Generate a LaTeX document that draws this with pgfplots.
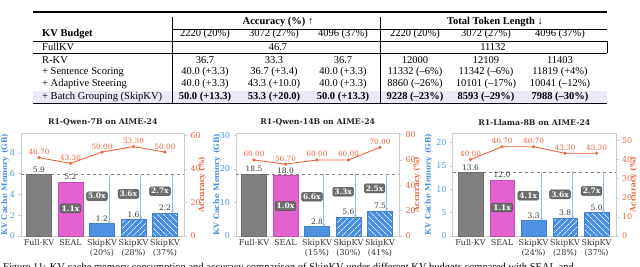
\documentclass[border=0pt]{standalone}
\usepackage{fontspec}
\setmainfont{Liberation Serif}
\newfontfamily\chartfont{DejaVu Serif}
\usepackage{pgfplots}
\pgfplotsset{compat=1.18}
\usetikzlibrary{patterns.meta,arrows.meta}
\definecolor{kvblue}{HTML}{4A90E2}
\definecolor{accor}{HTML}{F0643C}
\definecolor{sealmag}{HTML}{E462D0}
\definecolor{fullgrey}{HTML}{808080}
\definecolor{arrowblue}{HTML}{8FBDEE}
\definecolor{boxgrey}{HTML}{6E6E6E}
\definecolor{rowhl}{HTML}{E9E9F8}
\definecolor{spine}{HTML}{CCCCCC}
\definecolor{txtgrey}{HTML}{333333}

\pgfplotsset{
 base/.style={
   scale only axis, width=163.5pt, height=103pt,
   xmin=-0.57, xmax=4.62, ymin=0,
   axis line style={spine, line width=0.6pt},
   tick style={spine, line width=0.5pt},
   major tick length=2.5pt,
   tick align=outside,
   /pgf/number format/assume math mode=true,
   clip=false,
 },
 leftax/.style={base,
   xtick={0,1,2,3,4}, xtick pos=bottom, ytick pos=left,
   xtick style={draw=none},
   xticklabel style={align=center, font=\chartfont\fontsize{8}{10}\selectfont, text=txtgrey, inner sep=1pt},
   yticklabel style={font=\chartfont\fontsize{8}{9}\selectfont, text=kvblue},
   ylabel={KV Cache Memory (GB)},
   ylabel style={font=\chartfont\bfseries\fontsize{7.6}{9}\selectfont, text=kvblue, anchor=center},
   title style={font=\chartfont\bfseries\fontsize{7.8}{9}\selectfont, text=txtgrey!70!black, at={(0.5,1)}, anchor=south, inner sep=1.2pt},
 },
 rightax/.style={base,
   axis x line=none, axis y line*=right,
   yticklabel style={font=\chartfont\fontsize{8}{9}\selectfont, text=accor},
   ylabel={Accuracy (\%)},
   ylabel style={font=\chartfont\bfseries\fontsize{7.6}{9}\selectfont, text=accor, at={(axis description cs:1.107,0.5)}, anchor=center},
 },
 barlab/.style={nodes near coords, point meta=explicit symbolic,
   nodes near coords style={font=\chartfont\fontsize{7.5}{8}\selectfont, text=txtgrey, inner sep=1pt, anchor=south, yshift=1pt}},
 fullbar/.style={ybar, bar width=0.78, bar shift=0pt, fill=fullgrey, draw=fullgrey!85!black, line width=0.4pt, barlab},
 sealbar/.style={ybar, bar width=0.78, bar shift=0pt, fill=sealmag, draw=sealmag!85!black, line width=0.4pt, barlab},
 skipbar/.style={ybar, bar width=0.78, bar shift=0pt, fill=kvblue, draw=kvblue!90!black, line width=0.4pt, barlab},
 dotspat/.style={postaction={pattern={Dots[distance=3pt,radius=0.35pt]}, pattern color=white!55!kvblue}},
 nelines/.style={postaction={pattern={Lines[angle=45,distance=4pt,line width=0.7pt]}, pattern color=white!85!kvblue}},
 nwlines/.style={postaction={pattern={Lines[angle=-45,distance=4pt,line width=0.7pt]}, pattern color=white!85!kvblue}},
 refline/.style={dashed, draw=gray, line width=0.6pt, mark=none},
 redarrow/.style={draw=arrowblue, line width=0.8pt, mark=none, -{Stealth[length=3pt,width=3pt]}},
 accline/.style={color=accor, line width=0.9pt, mark=*, mark size=1.1pt, nodes near coords, point meta=explicit symbolic,
   nodes near coords style={font=\chartfont\fontsize{7.3}{8}\selectfont, text=accor, anchor=south, inner sep=0.5pt, yshift=2pt}},
}
\tikzset{rbox/.style={fill=boxgrey, draw=boxgrey!70!black, line width=0.5pt, rounded corners=1.5pt, text=white,
   font=\chartfont\bfseries\fontsize{7.5}{8}\selectfont, inner sep=1.6pt},
  tab/.style={font=\fontsize{10.5}{12}\selectfont, inner sep=0pt, anchor=center},
  tabl/.style={font=\fontsize{10.5}{12}\selectfont, inner sep=0pt, anchor=west}}

\begin{document}
\begin{tikzpicture}[x=1pt,y=1pt]
\useasboundingbox (0,0) rectangle (640,-267);
% ---------------- table ----------------
\fill[rowhl] (33,-91) rectangle (607,-103);
\draw[line width=1.1pt] (33,-12) -- (607,-12);
\draw[line width=0.5pt] (172,-29) -- (607,-29);
\draw[line width=0.5pt] (33,-41) -- (607,-41);
\draw[line width=0.5pt] (33,-53) -- (607,-53);
\draw[line width=0.5pt] (607,-41) -- (607,-53);
\draw[line width=0.8pt] (33,-103) -- (607,-103);
\draw[line width=0.5pt] (172,-17) -- (172,-103);
\draw[line width=0.5pt] (380,-17) -- (380,-103);
\node[tab] at (278,-22) {\textbf{Accuracy (\%) ↑}};
\node[tab] at (495,-22) {\textbf{Total Token Length ↓}};
\node[tabl] at (42,-34) {\textbf{KV Budget}};
\foreach \x/\t in {205/2220 (20\%),274/3072 (27\%),343/4096 (37\%),415/2220 (20\%),486/3072 (27\%),560/4096 (37\%)}
  \node[tab] at (\x,-34) {\t};
\node[tabl] at (42,-47) {FullKV};
\node[tab] at (278,-47) {46.7};
\node[tab] at (493,-47) {11132};
\node[tabl] at (42,-60) {R-KV};
\foreach \x/\t in {205/36.7,274/33.3,343/36.7,415/12000,486/12109,560/11403}
  \node[tab] at (\x,-60) {\t};
\node[tabl] at (42,-72) {+ Sentence Scoring};
\foreach \x/\t in {205/40.0 (+3.3),274/36.7 (+3.4),343/40.0 (+3.3),415/11332 (–6\%),486/11342 (–6\%),560/11819 (+4\%)}
  \node[tab] at (\x,-72) {\t};
\node[tabl] at (42,-84) {+ Adaptive Steering};
\foreach \x/\t in {205/40.0 (+3.3),274/43.3 (+10.0),343/40.0 (+3.3),415/8860 (–26\%),486/10101 (–17\%),560/10041 (–12\%)}
  \node[tab] at (\x,-84) {\t};
\node[tabl] at (42,-97) {+ Batch Grouping (SkipKV)};
\foreach \x/\t in {205/50.0 (+13.3),274/53.3 (+20.0),343/50.0 (+13.3),415/9228 (–23\%),486/8593 (–29\%),560/7988 (–30\%)}
  \node[tab] at (\x,-97) {\textbf{\t}};
% caption fragment (cut by page)
\node[font=\fontsize{10.5}{12}\selectfont, anchor=base west, inner sep=0pt] at (3,-270) {Figure 11: KV cache memory consumption and accuracy comparison of SkipKV under different KV budgets compared with SEAL and};

% ---------------- chart 1 ----------------
\begin{axis}[leftax, at={(21pt,-236pt)}, anchor=south west, ymax=9.9, ytick={0,2,4,6,8},
  title={R1-Qwen-7B on AIME-24},
  xticklabels={Full-KV,SEAL,{SkipKV\\(20\%)},{SkipKV\\(28\%)},{SkipKV\\(37\%)}},
  ylabel style={at={(axis description cs:-0.098,0.5)}}]
\addplot[refline] coordinates {(-0.57,5.9) (4.62,5.9)};
\addplot[fullbar] coordinates {(0,5.9) [5.9]};
\addplot[sealbar] coordinates {(1,5.2) [5.2]};
\addplot[skipbar, dotspat] coordinates {(2,1.2) [1.2]};
\addplot[skipbar, nelines] coordinates {(3,1.6) [1.6]};
\addplot[skipbar, nwlines] coordinates {(4,2.2) [2.2]};
\addplot[redarrow] coordinates {(2.23,5.9) (2.23,1.2)};
\addplot[redarrow] coordinates {(3.23,5.9) (3.23,1.6)};
\addplot[redarrow] coordinates {(4.23,5.9) (4.23,2.2)};
\node[rbox] at (axis cs:1.0,2.65) {1.1x};
\node[rbox] at (axis cs:1.84,3.82) {5.0x};
\node[rbox] at (axis cs:2.84,4.05) {3.6x};
\node[rbox] at (axis cs:3.84,4.3) {2.7x};
\end{axis}
\begin{axis}[rightax, at={(21pt,-236pt)}, anchor=south west, ymax=61.4, ytick={0,20,40,60}]
\addplot[accline] coordinates {(0,46.7)[46.70] (1,43.3)[43.30] (2,50)[50.00] (3,53.3)[53.30] (4,50)[50.00]};
\end{axis}

% ---------------- chart 2 ----------------
\begin{axis}[leftax, at={(236pt,-236pt)}, anchor=south west, ymax=30.7, ytick={0,10,20,30},
  title={R1-Qwen-14B on AIME-24},
  xticklabels={Full-KV,SEAL,{SkipKV\\(15\%)},{SkipKV\\(30\%)},{SkipKV\\(41\%)}},
  ylabel style={at={(axis description cs:-0.116,0.5)}}]
\addplot[refline] coordinates {(-0.57,18.5) (4.62,18.5)};
\addplot[fullbar] coordinates {(0,18.5) [18.5]};
\addplot[sealbar] coordinates {(1,18.0) [18.0]};
\addplot[skipbar, dotspat] coordinates {(2,2.8) [2.8]};
\addplot[skipbar, nelines] coordinates {(3,5.6) [5.6]};
\addplot[skipbar, nwlines] coordinates {(4,7.5) [7.5]};
\addplot[redarrow] coordinates {(2.22,18.5) (2.22,2.8)};
\addplot[redarrow] coordinates {(3.22,18.5) (3.22,5.6)};
\addplot[redarrow] coordinates {(4.21,18.5) (4.21,7.5)};
\node[rbox] at (axis cs:1.0,8.9) {1.0x};
\node[rbox] at (axis cs:1.84,11.7) {6.6x};
\node[rbox] at (axis cs:2.83,13.2) {3.3x};
\node[rbox] at (axis cs:3.83,14.2) {2.5x};
\end{axis}
\begin{axis}[rightax, at={(236pt,-236pt)}, anchor=south west, ymax=81.3, ytick={0,20,40,60,80}]
\addplot[accline] coordinates {(0,60)[60.00] (1,56.7)[56.70] (2,60)[60.00] (3,60)[60.00] (4,70)[70.00]};
\end{axis}

% ---------------- chart 3 ----------------
\begin{axis}[leftax, at={(452.6pt,-236pt)}, anchor=south west, ymax=22.0, ytick={0,5,10,15,20},
  title={R1-Llama-8B on AIME-24},
  xticklabels={Full-KV,SEAL,{SkipKV\\(24\%)},{SkipKV\\(28\%)},{SkipKV\\(37\%)}},
  ylabel style={at={(axis description cs:-0.147,0.5)}}]
\addplot[refline] coordinates {(-0.57,13.6) (4.62,13.6)};
\addplot[fullbar] coordinates {(0,13.6) [13.6]};
\addplot[sealbar] coordinates {(1,12.0) [12.0]};
\addplot[skipbar, dotspat] coordinates {(2,3.3) [3.3]};
\addplot[skipbar, nelines] coordinates {(3,3.8) [3.8]};
\addplot[skipbar, nwlines] coordinates {(4,5.0) [5.0]};
\addplot[redarrow] coordinates {(2.25,13.6) (2.25,3.3)};
\addplot[redarrow] coordinates {(3.24,13.6) (3.24,3.8)};
\addplot[redarrow] coordinates {(4.22,13.6) (4.22,5.0)};
\node[rbox] at (axis cs:1.0,6.1) {1.1x};
\node[rbox] at (axis cs:1.83,8.6) {4.1x};
\node[rbox] at (axis cs:2.84,8.9) {3.6x};
\node[rbox] at (axis cs:3.84,9.6) {2.7x};
\end{axis}
\begin{axis}[rightax, at={(452.6pt,-236pt)}, anchor=south west, ymax=53.9, ytick={0,10,20,30,40,50}]
\addplot[accline] coordinates {(0,40)[40.00] (1,46.7)[46.70] (2,46.7)[46.70] (3,43.3)[43.30] (4,43.3)[43.30]};
\end{axis}
\end{tikzpicture}
\end{document}
